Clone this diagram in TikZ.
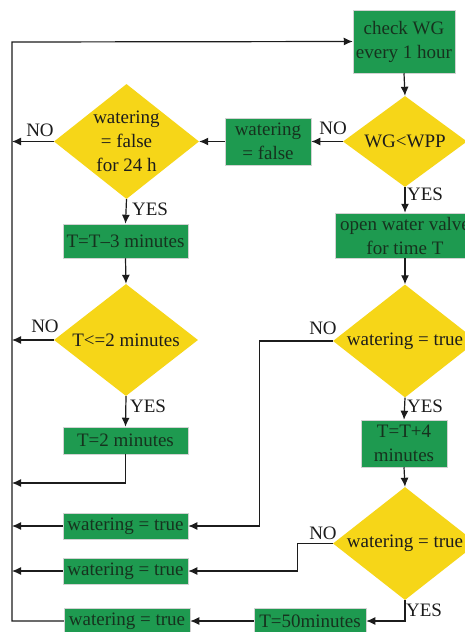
\documentclass[tikz,border=0pt]{standalone}
\usepackage{fontspec}
\setmainfont{Liberation Serif}
\usetikzlibrary{shapes.geometric,arrows.meta}
\definecolor{boxgreen}{RGB}{30,154,80}
\definecolor{askyellow}{RGB}{246,214,24}
\definecolor{inkdark}{RGB}{28,28,28}
\definecolor{greenink}{RGB}{22,50,30}
\begin{document}
\begin{tikzpicture}[x=1pt, y=-1pt,
    font=\fontsize{19}{24}\selectfont,
    flow/.style={draw=inkdark, line width=1.2pt, -{Latex[length=9pt,width=8pt]}},
    proc/.style={rectangle, draw=gray!35, line width=0.5pt, fill=boxgreen, text=greenink, align=center, inner sep=0pt},
    ask/.style={diamond, fill=askyellow, inner sep=0pt},
    asktext/.style={align=center, text=inkdark},
    tag/.style={text=inkdark, inner sep=1pt}]
    \clip (0,0) rectangle (465,632);
    \fill[white] (0,0) rectangle (465,632);

    % process boxes
    \node[proc, minimum width=102pt, minimum height=63pt] (check) at (404,41.5) {check WG\\every 1 hour};
    \node[proc, minimum width=86pt, minimum height=47pt] (wfalse) at (268,141.5) {watering\\= false};
    \node[proc, minimum width=125pt, minimum height=34pt] (tminus) at (125.5,241) {T=T--3 minutes};
    \node[proc, minimum width=125pt, minimum height=27pt] (ttwo) at (125.5,440.5) {T=2 minutes};
    \node[proc, minimum width=140pt, minimum height=45pt] (valve) at (405,235.5) {open water valve\\for time T};
    \node[proc, minimum width=86pt, minimum height=47pt] (tplus) at (404,443.5) {T=T+4\\minutes};
    \node[proc, minimum width=125pt, minimum height=26pt] (wtrueA) at (125.5,526) {watering = true};
    \node[proc, minimum width=125pt, minimum height=26pt] (wtrueB) at (125.5,571) {watering = true};
    \node[proc, minimum width=112pt, minimum height=26pt] (tfifty) at (310,621) {T=50minutes};
    \node[proc, minimum width=126pt, minimum height=26pt] (wtrueC) at (127,621) {watering = true};

    % decisions
    \node[ask, minimum width=124pt, minimum height=91pt, label={[asktext]center:WG<WPP}] (wgwpp) at (405,141.5) {};
    \node[ask, minimum width=145pt, minimum height=115pt, label={[asktext]center:watering\\= false\\for 24 h}] (dayoff) at (126.5,141.5) {};
    \node[ask, minimum width=144pt, minimum height=112pt, label={[asktext]center:T<=2 minutes}] (tlow) at (126,340) {};
    \node[ask, minimum width=144pt, minimum height=113pt, label={[asktext]center:watering = true}] (askA) at (405,341) {};
    \node[ask, minimum width=144pt, minimum height=113pt, label={[asktext]center:watering = true}] (askB) at (405,543.5) {};

    % the return line on the left
    \coordinate (backtop) at (12,42);
    \coordinate (backbot) at (12,621);
    \coordinate (backmid) at (12,483);

    \draw[flow] (wtrueC.west) -- (backbot) -- (backtop) -- (check.west);
    \draw[flow] (check.south) -- (wgwpp.north);
    \draw[flow] (wgwpp.west) -- (wfalse.east);
    \draw[flow] (wfalse.west) -- (dayoff.east);
    \draw[flow] (dayoff.west) -- (dayoff.west -| backtop);
    \draw[flow] (dayoff.south) -- (tminus.north);
    \draw[flow] (tminus.south) -- (tlow.north);
    \draw[flow] (tlow.west) -- (tlow.west -| backtop);
    \draw[flow] (tlow.south) -- (ttwo.north);
    \draw[flow] (ttwo.south) |- (backmid);
    \draw[flow] (wgwpp.south) -- (valve.north);
    \draw[flow] (valve.south) -- (askA.north);
    \draw[flow] (askA.west) -- ++(-73,0) |- (wtrueA.east);
    \draw[flow] (wtrueA.west) -- (wtrueA.west -| backtop);
    \draw[flow] (askA.south) -- (tplus.north);
    \draw[flow] (tplus.south) -- (askB.north);
    \draw[flow] (askB.west) -- ++(-35,0) |- (wtrueB.east);
    \draw[flow] (wtrueB.west) -- (wtrueB.west -| backtop);
    \draw[flow] (askB.south) |- (tfifty.east);
    \draw[flow] (tfifty.west) -- (wtrueC.east);

    % YES / NO
    \node[tag] (noA) at (333,128) {NO};
    \node[tag] (noB) at (40,130) {NO};
    \node[tag] (yesA) at (150,209) {YES};
    \node[tag] (noC) at (45,326) {NO};
    \node[tag] (yesB) at (148,406) {YES};
    \node[tag] (yesC) at (425,194) {YES};
    \node[tag] (noD) at (323,328) {NO};
    \node[tag] (yesD) at (425,406) {YES};
    \node[tag] (noE) at (323,533) {NO};
    \node[tag] (yesE) at (424,610) {YES};
\end{tikzpicture}
\end{document}
